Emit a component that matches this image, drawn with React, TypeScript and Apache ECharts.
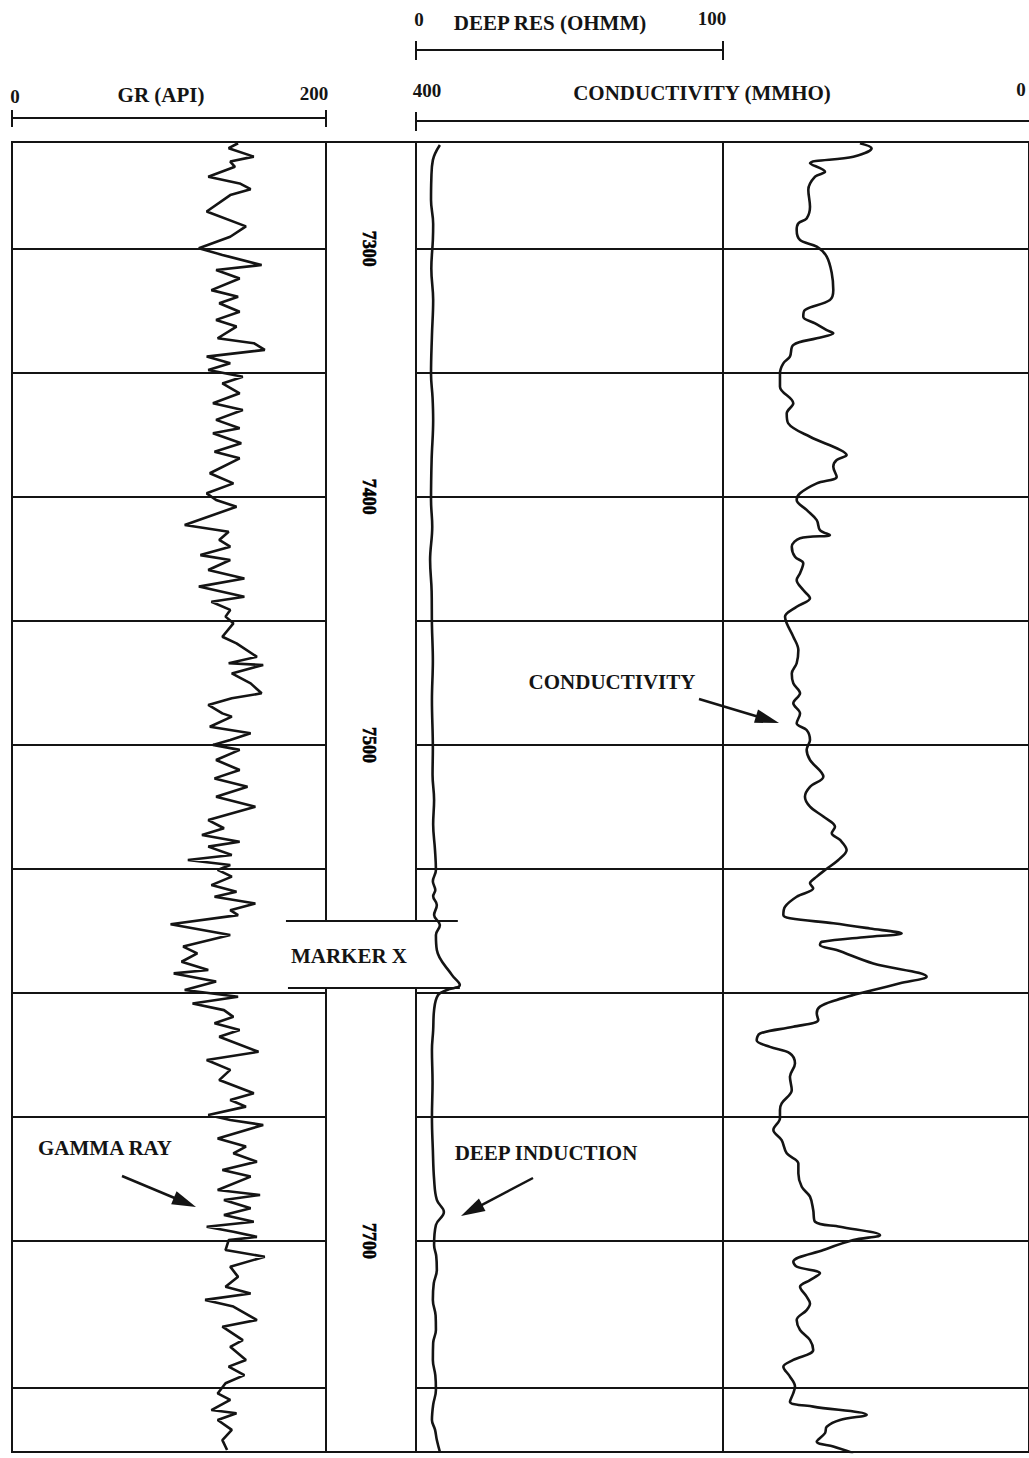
import React, { useEffect, useRef } from 'react';
import * as echarts from 'echarts';

// ---- depth scale (feet) ----
const DEPTH_MIN = 7257;
const DEPTH_MAX = 7785;
const gridDepths = [7300, 7350, 7400, 7450, 7500, 7550, 7600, 7650, 7700, 7759];
const depthLabels = [7300, 7400, 7500, 7700];

// ---- Gamma ray: [depth ft, API] ----
const gammaRay: [number, number][] = [
  [7257.5, 144], [7259.5, 138], [7262.9, 154], [7264.9, 139], [7267, 142], [7271, 125], [7273.7, 145], [7276, 152],
  [7278.4, 139], [7285, 124], [7291, 149], [7295.2, 139], [7299.8, 119], [7302.5, 134], [7306.6, 159], [7308.6, 130],
  [7312, 145], [7316.7, 127], [7319.4, 144], [7322, 132], [7325.4, 145], [7328.7, 130], [7331.4, 143], [7336.1, 131],
  [7338.1, 154], [7340.8, 161], [7343.5, 124], [7346.2, 139], [7348.9, 125], [7351.6, 147], [7354.3, 134], [7358.3, 145],
  [7362.3, 128], [7365, 147], [7369, 130], [7372.4, 145], [7374.4, 128], [7378.4, 146], [7381.8, 129], [7384.5, 145],
  [7390.5, 126], [7394.6, 141], [7398.6, 124], [7401.3, 130], [7404, 143], [7411.4, 110], [7414.1, 138], [7417.4, 132],
  [7420.1, 139], [7423.5, 120], [7425.5, 139], [7429.5, 125], [7432.9, 148], [7436.2, 119], [7440.3, 148], [7442.3, 127],
  [7445.6, 139], [7448.3, 136], [7451, 141], [7456.4, 134], [7459.1, 143], [7464.5, 156], [7467.1, 138], [7467.8, 160],
  [7471.2, 140], [7475.2, 152], [7479.2, 159], [7481.2, 140], [7483.9, 125], [7487.3, 134], [7488.6, 140], [7492.7, 126],
  [7495.3, 152], [7498, 139], [7500, 128], [7502, 145], [7506.1, 130], [7510.1, 145], [7513.5, 129],
  [7516.9, 150], [7520.9, 130], [7524.9, 155], [7530.3, 125], [7533.6, 135], [7536.3, 121], [7539, 145], [7541, 125],
  [7544.4, 140], [7546.4, 112], [7548.4, 139], [7550.4, 131], [7553.1, 140], [7556.5, 127], [7559.2, 143], [7561.2, 129],
  [7563.9, 155], [7566.6, 139], [7568.6, 144], [7572.3, 101], [7576.6, 139], [7581.3, 109], [7584, 118], [7587.4, 108],
  [7590.7, 125], [7592.1, 103], [7595.4, 130], [7598.8, 110], [7601.5, 144], [7604.2, 115], [7606.9, 135], [7609.6, 141],
  [7612.2, 129], [7614.9, 145], [7617.6, 132], [7623.7, 157], [7627, 124], [7631, 139], [7635.1, 132], [7640.4, 154],
  [7643.1, 139], [7645.8, 149],
  [7649.2, 125], [7651.2, 139], [7653.2, 160], [7658.6, 131], [7661.9, 149], [7664.6, 141], [7668, 156], [7671.3, 134],
  [7674, 152], [7679.4, 131], [7681.4, 158], [7683.4, 135], [7686.8, 152], [7689.5, 135], [7692.2, 154], [7694.2, 124],
  [7696.2, 141], [7698.3, 156], [7699.6, 138], [7703.6, 136], [7706.3, 161], [7710.3, 139], [7714.4, 144], [7718.4, 136],
  [7721.1, 152], [7723.7, 123], [7726.4, 141], [7731.8, 156], [7734.5, 134], [7739.9, 147], [7742.6, 139], [7747.9, 149],
  [7750.6, 138], [7754, 148], [7757.3, 136], [7761.4, 131], [7764, 139], [7768.1, 127], [7769.4, 143], [7772.1, 131],
  [7776.1, 140], [7780.2, 134], [7784.2, 137],
];

// ---- Deep induction resistivity: [depth ft, ohmm] ----
const deepRes: [number, number][] = [
  [7258.2, 7.8], [7264.3, 5.5], [7272, 5.0], [7280.4, 4.9], [7290, 5.6], [7296.5, 5.5], [7308, 5.0], [7320.7, 5.6],
  [7335, 5.2], [7350.5, 4.9], [7360, 5.4], [7369.1, 5.6], [7385, 5.1], [7401.3, 4.9], [7412, 5.3], [7425.5, 4.6],
  [7438, 5.1], [7451.7, 5.2], [7466, 5.5], [7481.9, 5.2], [7501.3, 5.5], [7512, 5.4], [7522.2, 5.9], [7532, 5.6],
  [7542.4, 6.2], [7550.4, 6.5], [7555, 5.5], [7558.5, 6.3], [7561, 5.6], [7564.5, 6.8], [7568.6, 5.9], [7572.6, 7.8],
  [7576.6, 6.5], [7582.7, 6.8], [7592.7, 11.7], [7596.8, 14.3], [7598.8, 10.1], [7600.8, 7.2], [7606.9, 5.9],
  [7615, 5.6], [7623, 5.2], [7636, 5.4], [7650, 5.2], [7663.3, 5.5], [7675, 5.9], [7683.4, 6.8], [7688.3, 9.1],
  [7693.5, 6.5], [7701.6, 5.9], [7706, 6.6], [7711.6, 6.8], [7717, 5.8], [7723.7, 5.5], [7730, 6.4], [7735.8, 6.5],
  [7741, 5.6], [7747.9, 5.5], [7754, 6.3], [7760, 6.5], [7766, 5.6], [7772.1, 5.2], [7776, 6.2], [7780.2, 6.8],
  [7785, 7.8],
];

// ---- Conductivity: [depth ft, mmho] ----
const conductivity: [number, number][] = [
  [7257.5, 110.3], [7259.5, 102.7], [7262.9, 114.6], [7265.6, 142.9], [7269, 133.1], [7271, 139.6], [7276.3, 144],
  [7283.1, 142.9], [7287.8, 145.1], [7289.8, 150.5], [7292.5, 151.6], [7296.5, 149.4], [7299.2, 138.5], [7303.2, 132],
  [7309.9, 128.7], [7316.7, 127.7], [7320.7, 129.9], [7324.7, 146.2], [7327.4, 147.3], [7330.1, 139.6], [7332.8, 132],
  [7334.1, 127.7], [7336.1, 138.5], [7338.8, 153.8], [7343.5, 156], [7346.2, 160.3], [7350.2, 162.5], [7355.6, 162.5],
  [7362.3, 153.8], [7366.4, 158.1], [7370.4, 157.1], [7375.8, 142.9], [7381.1, 123.3], [7383.2, 119],
  [7385.2, 125.5], [7387.9, 127.7], [7391.9, 125.5], [7394.6, 138.5], [7398.6, 149.4], [7401.3, 151.6], [7405.3, 145.1],
  [7409.4, 138.5], [7413.4, 136.4], [7415.4, 129.9], [7416.7, 149.4], [7420.1, 154.8], [7424.2, 152.7], [7426.8, 147.3],
  [7430.8, 149.4], [7433.5, 151.6], [7437.6, 147.3], [7440.9, 142.9], [7444.3, 151.6], [7448.3, 159.2], [7451, 158.1],
  [7456.4, 153.8], [7461.8, 150.5], [7467.1, 151.6], [7471.2, 154.8], [7475.2, 153.8], [7479.2, 149.4], [7483.2, 153.8],
  [7487.3, 149.4], [7491.3, 151.6], [7494, 145.1], [7498, 142.9], [7502, 145.1], [7506.1, 142.9],
  [7512.8, 134.2], [7516.9, 142.9], [7520.9, 146.2], [7524.9, 142.9], [7528.9, 134.2], [7533, 126.6], [7535.6, 128.7],
  [7538.3, 123.3], [7542.4, 119], [7546.4, 124.4], [7550.4, 133.1], [7553.1, 138.5], [7555.8, 142.9], [7557.8, 140.8],
  [7561.2, 151.6], [7565.2, 159.2], [7568.6, 160.3], [7569.9, 156], [7571.9, 127.7], [7574, 103.8], [7576, 83.1],
  [7577.4, 105.9], [7579.4, 135.3], [7580.7, 136.4], [7582.7, 125.5], [7588.1, 101.6], [7593.4, 66.8], [7596.1, 84.2],
  [7598.8, 101.6], [7600.8, 114.6], [7602.8, 125.5], [7605.5, 136.4], [7608.2, 138.5], [7610.9, 137.5], [7613.6, 153.8],
  [7616.3, 175.5], [7619, 177.7], [7621.7, 169], [7624.3, 156], [7628.4, 152.7], [7633.8, 156], [7639.1, 154.8],
  [7644.5, 161.4],
  [7647.2, 162.5], [7650.5, 162.5], [7655.2, 166.8], [7659.3, 161.4], [7664.6, 158.1], [7668.7, 150.5], [7672.7, 150.5],
  [7678.1, 148.3], [7682.1, 142.9], [7687.5, 140.8], [7692.2, 139.6], [7694.2, 123.3], [7697.6, 97.2], [7699.6, 114.6],
  [7703.6, 134.2], [7708.3, 153.8], [7710.3, 151.6], [7713, 136.4], [7715.7, 142.9], [7718.4, 149.4], [7722.4, 145.1],
  [7725.1, 142.9], [7727.8, 145.1], [7731.8, 151.6], [7735.8, 149.4], [7739.9, 142.9], [7743.9, 140.8], [7747.9, 153.8],
  [7750.6, 160.3], [7754.6, 156], [7758.6, 152.7], [7761.3, 153.8], [7764.7, 156], [7766.7, 140.8], [7770, 105.9],
  [7772.1, 123.3], [7774.8, 132], [7777.4, 133.1], [7780.8, 138.5], [7782.8, 127.7], [7785.5, 114.6],
];

// Marker X band: depths and horizontal extents (GR API on left, ohmm on right)
const markerTop = 7571;
const markerBottom = 7598;
const markerLeftGR = 174.5;
const markerRightRes = 14.3;

// ---- layout ----
const TOP = 142;
const BOTTOM = 1452;
const GR_L = 12;
const GR_R = 326;
const RES_L = 416;
const RES_R = 1029;
const INK = '#141414';
const FONT = '"Liberation Serif", "Times New Roman", serif';

function txt(text: string, x: number, y: number, size: number, align = 'center') {
  return {
    type: 'text',
    z: 5,
    style: {
      text, x, y, fill: INK, fontSize: size, fontWeight: 'bold', fontFamily: FONT,
      textAlign: align, textVerticalAlign: 'middle', align, verticalAlign: 'middle',
    },
  };
}
function seg(x1: number, y1: number, x2: number, y2: number, w = 2, z = 5) {
  return { type: 'line', z, shape: { x1, y1, x2, y2 }, style: { stroke: INK, lineWidth: w } };
}
function arrow(x1: number, y1: number, x2: number, y2: number, head = 24, half = 7) {
  const dx = x2 - x1, dy = y2 - y1;
  const L = Math.hypot(dx, dy);
  const ux = dx / L, uy = dy / L;
  const bx = x2 - ux * head, by = y2 - uy * head;
  const px = -uy, py = ux;
  return [
    seg(x1, y1, bx + ux * 4, by + uy * 4, 2.5),
    {
      type: 'polygon', z: 5,
      shape: { points: [[x2, y2], [bx + px * half, by + py * half], [bx - px * half, by - py * half]] },
      style: { fill: INK },
    },
  ];
}

export default function App() {
  const ref = useRef<HTMLDivElement>(null);
  useEffect(() => {
    const chart = echarts.init(ref.current!, null, { renderer: 'svg' });
    const gridBase = { top: TOP, height: BOTTOM - TOP, show: true, borderColor: INK, borderWidth: 2, backgroundColor: 'transparent' };
    const hiddenX = { type: 'value', show: false, splitLine: { show: false } };
    const depthY = (gi: number) => ({
      type: 'value', gridIndex: gi, min: DEPTH_MIN, max: DEPTH_MAX, inverse: true, show: false, splitLine: { show: false },
    });
    const hLines = {
      silent: true, symbol: ['none', 'none'], label: { show: false },
      lineStyle: { color: INK, width: 2, type: 'solid' },
      data: gridDepths.map((d) => ({ yAxis: d })),
    };
    chart.setOption({
      animation: false,
      backgroundColor: '#ffffff',
      grid: [
        { ...gridBase, left: GR_L, width: GR_R - GR_L },
        { ...gridBase, left: GR_R, width: RES_L - GR_R },
        { ...gridBase, left: RES_L, width: RES_R - RES_L },
      ],
      xAxis: [
        { ...hiddenX, gridIndex: 0, min: 0, max: 200 },
        { ...hiddenX, gridIndex: 1, min: 0, max: 1 },
        {
          type: 'value', gridIndex: 2, min: 0, max: 200, interval: 100,
          axisLine: { show: false }, axisTick: { show: false }, axisLabel: { show: false },
          splitLine: { show: true, lineStyle: { color: INK, width: 2 } },
        },
        { ...hiddenX, gridIndex: 2, min: 0, max: 400, inverse: true },
      ],
      yAxis: [depthY(0), depthY(1), depthY(2)],
      series: [
        {
          name: 'Gamma ray', type: 'line', xAxisIndex: 0, yAxisIndex: 0, z: 3,
          data: gammaRay.map(([d, v]) => [v, d]), showSymbol: false, symbol: 'none',
          lineStyle: { color: INK, width: 2.6 }, markLine: hLines,
        },
        {
          name: 'Depth', type: 'scatter', xAxisIndex: 1, yAxisIndex: 1, z: 6,
          data: depthLabels.map((d) => [0.42, d]), symbolSize: 1, itemStyle: { color: '#ffffff', opacity: 0 },
          label: {
            show: true, position: 'inside', rotate: -90, offset: [0, -5],
            formatter: (p: any) => String(depthLabels[p.dataIndex]),
            color: '#000000', opacity: 1, fontSize: 18, fontWeight: 'bold', fontFamily: FONT,
            textBorderColor: '#000000', textBorderWidth: 0.6,
          },
        },
        {
          name: 'Deep induction', type: 'line', xAxisIndex: 2, yAxisIndex: 2, z: 4,
          data: deepRes.map(([d, v]) => [v, d]), showSymbol: false, symbol: 'none', smooth: 0.4,
          lineStyle: { color: INK, width: 2.6 },
        },
        {
          name: 'Conductivity', type: 'line', xAxisIndex: 3, yAxisIndex: 2, z: 3,
          data: conductivity.map(([d, v]) => [v, d]), showSymbol: false, symbol: 'none', smooth: 0.35,
          lineStyle: { color: INK, width: 2.6 }, markLine: hLines,
        },
      ],
    });

    const p1 = chart.convertToPixel({ gridIndex: 0 }, [markerLeftGR, markerTop]) as number[];
    const p2 = chart.convertToPixel({ gridIndex: 2 }, [markerRightRes, markerBottom]) as number[];
    const bx1 = p1[0], by1 = p1[1], bx2 = p2[0], by2 = p2[1];

    const graphics: any[] = [
      // header: GR
      txt('0', GR_L + 3, 96, 19), txt('GR (API)', 161, 95, 21), txt('200', GR_R - 12, 93, 19),
      seg(GR_L, 118, GR_R, 118), seg(GR_L, 110, GR_L, 127), seg(GR_R, 110, GR_R, 127),
      // header: conductivity
      txt('400', RES_L + 11, 90, 19), txt('CONDUCTIVITY (MMHO)', 702, 93, 21), txt('0', RES_R - 8, 89, 19),
      seg(RES_L, 121, RES_R, 121), seg(RES_L, 112, RES_L, 131),
      // header: deep res
      txt('0', RES_L + 3, 19, 19), txt('DEEP RES (OHMM)', 550, 23, 21), txt('100', 712, 18, 19),
      seg(RES_L, 50, 723, 50), seg(RES_L, 41, RES_L, 60), seg(723, 41, 723, 60),
      // marker X band
      { type: 'rect', z: 1, shape: { x: bx1, y: by1, width: bx2 - bx1, height: by2 - by1 }, style: { fill: '#ffffff' } },
      seg(bx1, by1, bx2 - 2, by1, 2, 1),
      seg(bx1 + 2, by2, bx2, by2, 2, 1),
      txt('MARKER X', bx1 + 5, (by1 + by2) / 2 + 1, 21, 'left'),
      // annotations
      txt('GAMMA RAY', 105, 1148, 21), ...arrow(122, 1176, 196, 1207),
      txt('DEEP INDUCTION', 546, 1153, 21), ...arrow(533, 1178, 461, 1216),
      txt('CONDUCTIVITY', 612, 682, 21), ...arrow(699, 699, 779, 723),
    ];
    chart.setOption({ graphic: graphics });
    return () => chart.dispose();
  }, []);
  return (
    <div
      ref={ref}
      style={{ position: 'absolute', left: 0, top: 0, width: 1029, height: 1458, background: '#fff' }}
    />
  );
}
